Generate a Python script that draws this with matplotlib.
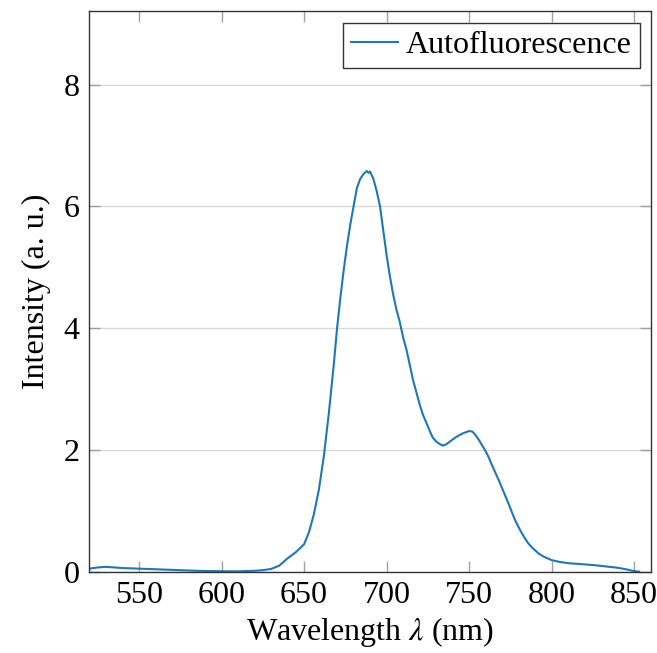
import numpy as np
import matplotlib.pyplot as plt

plt.rcParams['font.family'] = ['Liberation Serif', 'DejaVu Serif']
plt.rcParams['mathtext.fontset'] = 'stix'

# emission spectrum (nm, a.u.)
wavelength = [520, 525, 530, 535, 540, 545, 550, 555, 560, 565, 570, 575, 580,
              585, 590, 595, 600, 605, 610, 615, 620, 625, 630, 635, 640, 645,
              650, 653, 656, 659, 662, 665, 668, 670, 672, 674, 676, 678, 680,
              682, 684, 686, 688, 689, 690, 692, 694, 696, 698, 700, 702, 704,
              706, 708, 710, 712, 714, 716, 718, 720, 722, 724, 726, 728, 730,
              732, 734, 736, 738, 740, 742, 744, 746, 748, 750, 752, 754, 756,
              758, 760, 762, 764, 766, 768, 770, 772, 774, 776, 778, 780, 782,
              784, 786, 788, 790, 792, 795, 800, 805, 810, 815, 820, 825, 830,
              835, 840, 845, 850, 853]
intensity = [0.05, 0.07, 0.08, 0.07, 0.06, 0.055, 0.05, 0.045, 0.04, 0.035,
             0.03, 0.025, 0.02, 0.015, 0.012, 0.01, 0.008, 0.006, 0.006, 0.01,
             0.015, 0.025, 0.045, 0.10, 0.22, 0.32, 0.45, 0.65, 0.95, 1.35,
             1.9, 2.6, 3.4, 4.0, 4.5, 4.95, 5.35, 5.7, 6.0, 6.3, 6.45, 6.53,
             6.58, 6.55, 6.57, 6.45, 6.25, 6.0, 5.6, 5.2, 4.85, 4.55, 4.3,
             4.1, 3.85, 3.65, 3.4, 3.15, 2.95, 2.75, 2.58, 2.45, 2.32, 2.2,
             2.14, 2.1, 2.07, 2.09, 2.13, 2.17, 2.21, 2.24, 2.27, 2.29, 2.31,
             2.3, 2.24, 2.16, 2.07, 1.98, 1.87, 1.74, 1.62, 1.5, 1.37, 1.24,
             1.11, 0.97, 0.84, 0.73, 0.63, 0.54, 0.46, 0.4, 0.35, 0.3, 0.25,
             0.19, 0.16, 0.14, 0.13, 0.12, 0.11, 0.095, 0.08, 0.065, 0.04,
             0.01, 0.0]

x_ticks = [550, 600, 650, 700, 750, 800, 850]
y_ticks = [0, 2, 4, 6, 8]

fig = plt.figure(figsize=(6.57, 6.53), dpi=100)
ax = fig.add_axes([0.1362, 0.1245, 0.8542, 0.858])

ax.plot(wavelength, intensity, color='#1f77b4', lw=1.5, label='Autofluorescence')

ax.set_xlim(520, 860)
ax.set_ylim(0, 9.2)
ax.set_xticks(x_ticks)
ax.set_yticks(y_ticks)
ax.yaxis.grid(True, color='#d9d9d9', lw=1.0)
ax.set_axisbelow(True)

ax.tick_params(direction='in', length=8, width=1, color='#a0a0a0',
               top=True, right=True, labelsize=23, pad=7)
for s in ax.spines.values():
    s.set_color('#333333')
    s.set_linewidth(1.0)

ax.set_xlabel(r'Wavelength $\lambda$ (nm)', fontsize=23, labelpad=3)
ax.set_ylabel('Intensity (a. u.)', fontsize=23, labelpad=9)

leg = ax.legend(loc='upper right', fontsize=23, fancybox=False,
                edgecolor='#333333', framealpha=1, handlelength=1.45,
                borderaxespad=0.35, borderpad=0.25, handletextpad=0.25)
leg.get_frame().set_linewidth(1.0)

fig.savefig('out.png', dpi=100)
